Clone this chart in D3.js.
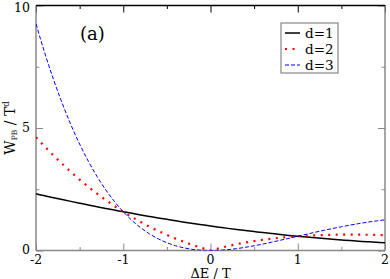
<!DOCTYPE html>
<html><head><meta charset="utf-8">
<script src="https://d3js.org/d3.v7.min.js"></script>
<style>body{margin:0;background:#fff}svg{display:block}</style>
</head><body>
<script>
const xValues = [-2,-1.9,-1.8,-1.7,-1.6,-1.5,-1.4,-1.3,-1.2,-1.1,-1,-0.9,-0.8,-0.7,-0.6,-0.5,-0.4,-0.3,-0.2,-0.1,0,0.1,0.2,0.3,0.4,0.5,0.6,0.7,0.8,0.9,1,1.1,1.2,1.3,1.4,1.5,1.6,1.7,1.8,1.9,2];
const d1 = [2.313,2.234,2.156,2.080,2.005,1.931,1.858,1.787,1.717,1.649,1.582,1.517,1.453,1.391,1.330,1.271,1.213,1.157,1.103,1.051,1.000,0.951,0.903,0.857,0.813,0.771,0.730,0.691,0.653,0.617,0.582,0.549,0.517,0.487,0.458,0.431,0.405,0.380,0.356,0.334,0.313];
const d2 = [4.626,4.245,3.882,3.536,3.208,2.896,2.602,2.323,2.061,1.814,1.582,1.365,1.162,0.973,0.798,0.635,0.485,0.347,0.221,0.105,0.000,0.095,0.181,0.257,0.325,0.385,0.438,0.483,0.522,0.555,0.582,0.604,0.621,0.633,0.642,0.646,0.648,0.646,0.642,0.635,0.626];
const d3v = [9.252,8.065,6.987,6.011,5.132,4.344,3.642,3.020,2.473,1.995,1.582,1.228,0.930,0.681,0.479,0.318,0.194,0.104,0.044,0.011,0.000,0.010,0.036,0.077,0.130,0.193,0.263,0.338,0.418,0.499,0.582,0.664,0.745,0.823,0.898,0.969,1.036,1.098,1.155,1.206,1.252];
const seriesNames = ["d=1","d=2","d=3"];
const xTicks = [-2,-1,0,1,2];
const xMinor = [-1.5,-0.5,0.5,1.5];
const yTicks = [0,5,10];
const yMinor = [2.5,7.5];

const FONT = "'DejaVu Serif','Liberation Serif',serif";
const W = 390, H = 279;
const svg = d3.select("body").append("svg").attr("width", W).attr("height", H)
  .attr("font-family", FONT).style("font-family", FONT);
const L = 36, R = 385, T = 5.5, B = 250.5;
const x = d3.scaleLinear().domain([-2,2]).range([L,R]);
const y = d3.scaleLinear().domain([0,10]).range([B,T]);

svg.append("defs").append("clipPath").attr("id","clip")
  .append("rect").attr("x",L).attr("y",T).attr("width",R-L).attr("height",B-T);

const gray = "#888";
function axis(gen, tr, color, minor, minorSize, vals){
  const g = svg.append("g").attr("transform", tr);
  g.call(gen.tickValues(vals).tickSize(7).tickFormat(""));
  g.select(".domain").remove();
  g.selectAll("line").attr("stroke", color);
  const g2 = svg.append("g").attr("transform", tr);
  g2.call(gen.tickValues(minor).tickSize(minorSize).tickFormat(""));
  g2.select(".domain").remove();
  g2.selectAll("line").attr("stroke", color);
}
axis(d3.axisTop(x), `translate(0,${B})`, gray, xMinor, 3.5, xTicks);
axis(d3.axisBottom(x), `translate(0,${T})`, "#000", xMinor, 3.5, xTicks);
axis(d3.axisRight(y), `translate(${L},0)`, gray, yMinor, 3.5, yTicks);
axis(d3.axisLeft(y), `translate(${R},0)`, gray, yMinor, 3.5, yTicks);

svg.append("line").attr("x1",L).attr("x2",L).attr("y1",T).attr("y2",B).attr("stroke",gray).attr("stroke-width",1.5);
svg.append("line").attr("x1",R).attr("x2",R).attr("y1",T).attr("y2",B).attr("stroke",gray).attr("stroke-width",1.5);
svg.append("line").attr("x1",L).attr("x2",R).attr("y1",B).attr("y2",B).attr("stroke",gray).attr("stroke-width",1.5);
svg.append("line").attr("x1",L).attr("x2",R).attr("y1",T).attr("y2",T).attr("stroke","#000").attr("stroke-width",1.5);

svg.selectAll(".xl").data(xTicks).enter().append("text")
  .attr("font-family", FONT)
  .attr("x", d => x(d)).attr("y", 264).attr("text-anchor","middle")
  .attr("font-size", 12.5).text(d => d);
svg.selectAll(".yl").data(yTicks).enter().append("text")
  .attr("font-family", FONT)
  .attr("x", 30).attr("y", d => d === 10 ? 12 : y(d) + 3.5).attr("text-anchor","end")
  .attr("font-size", 12.5).text(d => d);

svg.append("text").attr("font-family", FONT).attr("x", (L+R)/2).attr("y", 277.5).attr("text-anchor","middle")
  .attr("font-size", 13).text("\u0394E / T");
const yt = svg.append("text").attr("font-family", FONT).attr("transform", `translate(15,${(T+B)/2}) rotate(-90)`)
  .attr("text-anchor","middle").attr("font-size", 14);
yt.append("tspan").text("W");
yt.append("tspan").attr("font-size", 7.5).attr("dy", 2).text("PB");
yt.append("tspan").attr("dy", -2).text(" / T");
yt.append("tspan").attr("font-size", 8.5).attr("dy", -6).text("d");

const styles = [
  {data: d1, color: "#000", width: 1.5, dash: null},
  {data: d2, color: "#ff0000", width: 2.2, dash: "2,5.5"},
  {data: d3v, color: "#0000ff", width: 1, dash: "4,2"}
];
const line = d3.line().x((d,i) => x(xValues[i])).y(d => y(d)).curve(d3.curveMonotoneX);
const cg = svg.append("g").attr("clip-path","url(#clip)");
styles.forEach(s => {
  cg.append("path").attr("d", line(s.data)).attr("fill","none")
    .attr("stroke", s.color).attr("stroke-width", s.width)
    .attr("stroke-dasharray", s.dash);
});

svg.append("text").attr("font-family", FONT).attr("x", 80).attr("y", 40).attr("font-size", 18).text("(a)");

const lg = svg.append("g");
lg.append("rect").attr("x", 281).attr("y", 23).attr("width", 57).attr("height", 50)
  .attr("fill","#fff").attr("stroke", gray).attr("stroke-width", 1.2);
styles.forEach((s, i) => {
  const yy = 33 + i*16;
  lg.append("line").attr("x1", 285).attr("x2", 300).attr("y1", yy).attr("y2", yy)
    .attr("stroke", s.color).attr("stroke-width", s.width).attr("stroke-dasharray", s.dash);
  lg.append("text").attr("font-family", FONT).attr("x", 305).attr("y", yy + 5).attr("font-size", 13.5).text(seriesNames[i]);
});
</script>
</body></html>
